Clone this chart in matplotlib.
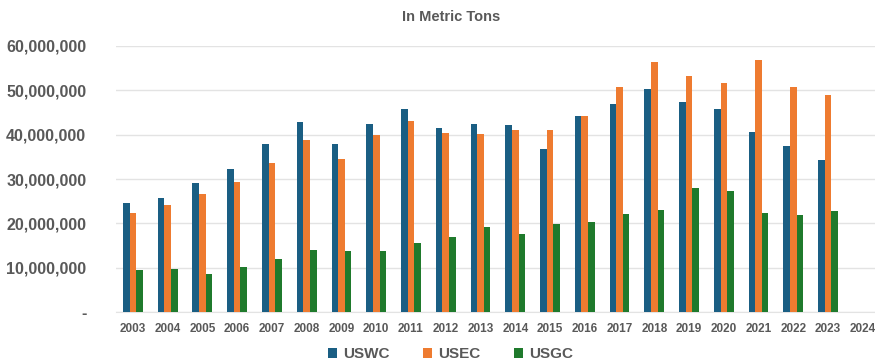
import numpy as np
import matplotlib.pyplot as plt
from matplotlib.ticker import FuncFormatter

years = [str(y) for y in range(2003, 2025)]
uswc = [24.5, 25.8, 29.2, 32.2, 37.9, 42.9, 38.0, 42.3, 45.7, 41.4, 42.3,
        42.1, 36.7, 44.3, 46.9, 50.2, 47.4, 45.9, 40.6, 37.4, 34.2, 0]
usec = [22.3, 24.1, 26.6, 29.3, 33.7, 38.8, 34.6, 40.0, 43.0, 40.4, 40.1,
        41.1, 41.1, 44.1, 50.8, 56.3, 53.2, 51.7, 56.9, 50.8, 48.9, 0]
usgc = [9.5, 9.7, 8.6, 10.1, 12.0, 13.9, 13.8, 13.8, 15.5, 17.0, 19.1,
        17.7, 19.9, 20.4, 22.1, 22.9, 28.0, 27.4, 22.4, 21.9, 22.7, 0]

series = [("USWC", uswc, "#1a5e83"),
          ("USEC", usec, "#ee7b30"),
          ("USGC", usgc, "#1f7a2c")]

plt.rcParams["font.family"] = ["Liberation Sans", "DejaVu Sans"]
gray = "#595959"

fig = plt.figure(figsize=(8.75, 3.62), dpi=100)
ax = fig.add_axes([0.132, 0.138, 0.874, 0.735])

x = np.arange(len(years))
w = 0.19
for i, (name, vals, col) in enumerate(series):
    ax.bar(x + (i - 1) * w, np.array(vals) * 1e6, width=w, color=col,
           label=name, zorder=3)

ax.set_xlim(-0.5, len(years) - 0.5)
ax.set_ylim(0, 60e6)
ax.set_yticks(np.arange(0, 60e6 + 1, 10e6))
ax.yaxis.set_major_formatter(FuncFormatter(
    lambda v, p: "-" if v == 0 else f"{int(v):,}"))
ax.set_xticks(x)
ax.set_xticklabels(years)
ax.grid(axis="y", color="#e3e3e3", linewidth=1, zorder=0)
for s in ["top", "right", "left"]:
    ax.spines[s].set_visible(False)
ax.spines["bottom"].set_color("#e3e3e3")
ax.tick_params(axis="both", length=0)
ax.tick_params(axis="y", labelsize=11.5, labelcolor=gray, pad=21)
ax.tick_params(axis="x", labelsize=8.5, labelcolor=gray, pad=8)
for lbl in ax.get_yticklabels() + ax.get_xticklabels():
    lbl.set_fontweight("bold")

fig.text(0.515, 0.953, "In Metric Tons", ha="center", va="center",
         fontsize=10.5, fontweight="bold", color=gray)

fig.legend(loc="center", bbox_to_anchor=(0.515, 0.022), ncol=3, frameon=False,
           prop={"weight": "bold", "size": 11}, labelcolor=gray,
           handlelength=0.6, handleheight=0.6, handletextpad=0.4,
           columnspacing=2.2)

fig.savefig("out.png", dpi=100)
